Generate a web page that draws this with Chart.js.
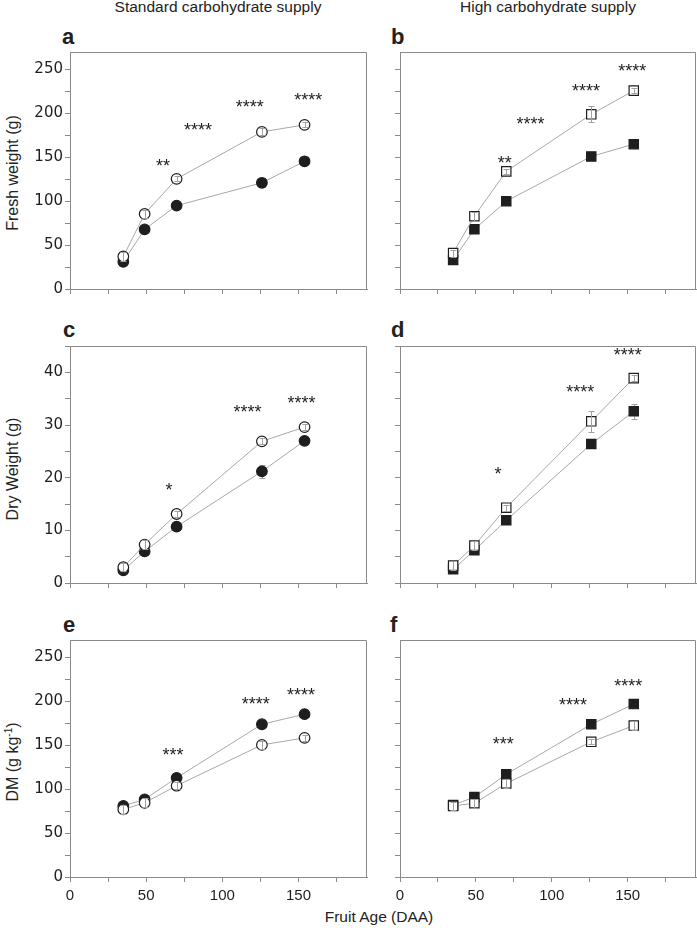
<!DOCTYPE html>
<html>
<head>
<meta charset="utf-8">
<script src="https://cdn.jsdelivr.net/npm/chart.js@4.4.1/dist/chart.umd.min.js"></script>
<style>
  body { margin: 0; background: #fff; width: 697px; height: 928px; position: relative; overflow: hidden;
         font-family: "Liberation Sans", Arial, sans-serif; color: #222; }
  canvas { position: absolute; }
  .lbl { position: absolute; white-space: nowrap; line-height: 1; }
  .col { font-size: 15.5px; transform: translateX(-50%); }
  .letter { font-size: 22px; font-weight: bold; }
  .ytitle { font-size: 16px; transform: translate(-50%, -50%) rotate(-90deg); }
  .xtitle { font-size: 15.5px; transform: translate(-50%, -50%); }
  sup { font-size: 10px; vertical-align: 6px; line-height: 0; }
</style>
</head>
<body>
<div class="lbl col" style="left:218px; top:-1px;">Standard carbohydrate supply</div>
<div class="lbl col" style="left:548px; top:-1px;">High carbohydrate supply</div>

<div class="lbl letter" style="left:62px; top:26px;">a</div>
<div class="lbl letter" style="left:391px; top:26px;">b</div>
<div class="lbl letter" style="left:63px; top:319px;">c</div>
<div class="lbl letter" style="left:391px; top:319px;">d</div>
<div class="lbl letter" style="left:63px; top:614px;">e</div>
<div class="lbl letter" style="left:390px; top:614px;">f</div>

<div class="lbl ytitle" style="left:13px; top:173px;">Fresh weight (g)</div>
<div class="lbl ytitle" style="left:13px; top:469px;">Dry Weight (g)</div>
<div class="lbl ytitle" style="left:13px; top:762px;">DM (g kg<sup>-1</sup>)</div>
<div class="lbl xtitle" style="left:379px; top:917px;">Fruit Age (DAA)</div>

<script>
// --- DATA ---
const daa = [35, 49, 70, 126, 154];

// a - fresh weight, standard supply
const freshStdOpen      = [37, 85.5, 125.5, 179, 187];
const freshStdOpenErr   = [5, 5, 3, 4, 3];
const freshStdFilled    = [31, 68, 95, 121, 145.5];
const freshStdFilledErr = [2, 3, 3, 5, 3];
// b - fresh weight, high supply
const freshHighOpen      = [41, 83, 134, 199, 226];
const freshHighOpenErr   = [4, 5, 3, 9, 3];
const freshHighFilled    = [33, 68, 100, 151, 165];
const freshHighFilledErr = [2, 3, 3, 3, 3];
// c - dry weight, standard supply
const dryStdOpen      = [3.0, 7.3, 13.1, 26.9, 29.6];
const dryStdOpenErr   = [0.8, 0.9, 0.5, 0.6, 0.5];
const dryStdFilled    = [2.4, 6.0, 10.7, 21.2, 27.0];
const dryStdFilledErr = [0.4, 0.6, 0.6, 1.2, 0.6];
// d - dry weight, high supply
const dryHighOpen      = [3.3, 7.1, 14.3, 30.7, 38.9];
const dryHighOpenErr   = [0.8, 0.9, 0.6, 2.0, 0.6];
const dryHighFilled    = [2.6, 6.2, 11.9, 26.4, 32.6];
const dryHighFilledErr = [0.3, 0.6, 0.6, 0.6, 1.4];
// e - dry matter, standard supply
const dmStdOpen      = [77, 84.5, 104, 150.5, 158.5];
const dmStdOpenErr   = [5, 5, 4, 5, 3];
const dmStdFilled    = [81, 88.5, 113, 174, 185.5];
const dmStdFilledErr = [3, 3, 3, 3, 3];
// f - dry matter, high supply
const dmHighOpen      = [81, 84, 106.5, 154, 172.5];
const dmHighOpenErr   = [5, 5, 5, 3, 5];
const dmHighFilled    = [82, 91, 117, 174, 197];
const dmHighFilledErr = [3, 3, 3, 3, 3];

// significance marks (x in DAA, y in axis units)
const sigA = { x: [61, 84, 118, 156.5], y: [145, 186, 212.5, 221], text: ['**', '****', '****', '****'] };
const sigB = { x: [69, 86, 122.5, 153], y: [149, 193.5, 231, 253], text: ['**', '****', '****', '****'] };
const sigC = { x: [65, 116.5, 152], y: [18.6, 33.3, 35.0], text: ['*', '****', '****'] };
const sigD = { x: [64.6, 118.7, 150], y: [21.5, 37.2, 44.2], text: ['*', '****', '****'] };
const sigE = { x: [67.7, 122, 151.6], y: [144.4, 202.5, 212.4], text: ['***', '****', '****'] };
const sigF = { x: [68, 114, 150.3], y: [156.5, 201.4, 223], text: ['***', '****', '****'] };

// --- STYLE ---
const FONT = '"Liberation Sans", Arial, sans-serif';
const FRAME = '#8a8a8a';
const LINE = '#a8a8a8';
const ERR = '#a0a0a0';
const INK = '#1e1e1e';
const PAD_L = 50, PAD_R = 8, PAD_T = 12, PAD_B = 32;

const COLS = [{ l: 70, r: 367 }, { l: 400, r: 696 }];
const ROWS = [{ t: 52, b: 289 }, { t: 346, b: 583 }, { t: 640, b: 877 }];

// --- PLUGIN: error bars, frame, asterisks ---
function drawErrors(chart, open) {
    const { ctx, scales: { x, y } } = chart;
    ctx.save();
    ctx.strokeStyle = ERR;
    ctx.lineWidth = 1;
    chart.data.datasets.forEach(ds => {
        if (!!ds.open !== open) return;
        ds.data.forEach((p, i) => {
            const px = Math.round(x.getPixelForValue(p.x)) + 0.5;
            const y1 = Math.round(y.getPixelForValue(p.y - ds.errors[i])) + 0.5;
            const y2 = Math.round(y.getPixelForValue(p.y + ds.errors[i])) + 0.5;
            ctx.beginPath();
            ctx.moveTo(px, y1); ctx.lineTo(px, y2);
            ctx.moveTo(px - 3, y1); ctx.lineTo(px + 3, y1);
            ctx.moveTo(px - 3, y2); ctx.lineTo(px + 3, y2);
            ctx.stroke();
        });
    });
    ctx.restore();
}

const panelExtras = {
    id: 'panelExtras',
    beforeDatasetsDraw(chart) { drawErrors(chart, false); },
    afterDatasetsDraw(chart) {
        drawErrors(chart, true);
        const { ctx, chartArea: a, scales: { x, y } } = chart;
        ctx.save();
        // top + right edge of the frame
        ctx.strokeStyle = FRAME;
        ctx.lineWidth = 1;
        ctx.beginPath();
        ctx.moveTo(Math.round(a.left), Math.round(a.top) + 0.5);
        ctx.lineTo(Math.round(a.right) - 0.5, Math.round(a.top) + 0.5);
        ctx.lineTo(Math.round(a.right) - 0.5, Math.round(a.bottom));
        ctx.stroke();
        // asterisks
        const sig = chart.options.plugins.panelExtras.sig;
        ctx.fillStyle = INK;
        ctx.font = '18px ' + FONT;
        ctx.textAlign = 'center';
        ctx.textBaseline = 'alphabetic';
        sig.x.forEach((v, i) => {
            ctx.fillText(sig.text[i], x.getPixelForValue(v), y.getPixelForValue(sig.y[i]) + 10.5);
        });
        ctx.restore();
    }
};

function series(ys, errs, open, shape) {
    return {
        data: daa.map((d, i) => ({ x: d, y: ys[i] })),
        errors: errs,
        open: open,
        showLine: true,
        borderColor: LINE,
        borderWidth: 1,
        pointStyle: shape,
        pointRadius: shape === 'rect' ? 6.6 : 5.3,
        pointBorderWidth: 1.2,
        pointBorderColor: INK,
        pointBackgroundColor: open ? '#fff' : INK,
        tension: 0
    };
}

function buildPanel(col, row, opts) {
    const c = COLS[col], r = ROWS[row];
    const w = c.r - c.l + PAD_L + PAD_R;
    const h = r.b - r.t + PAD_T + PAD_B;
    const canvas = document.createElement('canvas');
    canvas.width = w; canvas.height = h;
    canvas.style.left = (c.l - PAD_L) + 'px';
    canvas.style.top = (r.t - PAD_T) + 'px';
    canvas.style.width = w + 'px';
    canvas.style.height = h + 'px';
    document.body.appendChild(canvas);

    const shape = col === 0 ? 'circle' : 'rect';
    new Chart(canvas, {
        type: 'scatter',
        data: {
            datasets: [
                series(opts.open, opts.openErr, true, shape),
                series(opts.filled, opts.filledErr, false, shape)
            ]
        },
        options: {
            responsive: false,
            devicePixelRatio: 1,
            animation: false,
            layout: { padding: { left: 0, right: PAD_R, top: PAD_T, bottom: 0 } },
            plugins: {
                legend: { display: false },
                tooltip: { enabled: false },
                panelExtras: { sig: opts.sig }
            },
            scales: {
                x: {
                    type: 'linear', min: 0, max: 195,
                    afterFit: s => { s.height = PAD_B; },
                    grid: { drawOnChartArea: false, drawTicks: true, tickLength: 5, color: FRAME },
                    border: { display: true, color: FRAME, width: 1 },
                    ticks: {
                        display: row === 2, stepSize: 25, includeBounds: false, autoSkip: false,
                        maxRotation: 0, padding: 5, color: INK, font: { family: FONT, size: 15 },
                        callback: v => (v % 50 === 0 ? v : '')
                    }
                },
                y: {
                    type: 'linear', min: 0, max: opts.yMax,
                    afterFit: s => { s.width = PAD_L; },
                    grid: { drawOnChartArea: false, drawTicks: true, tickLength: 5, color: FRAME },
                    border: { display: true, color: FRAME, width: 1 },
                    ticks: {
                        display: col === 0, stepSize: opts.yStep, includeBounds: false,
                        padding: 2, color: INK, font: { family: '"DejaVu Sans", sans-serif', size: 15 },
                        callback: v => (v % (opts.yStep * 2) === 0 ? v : '')
                    }
                }
            }
        },
        plugins: [panelExtras]
    });
}

document.addEventListener('DOMContentLoaded', () => {
    buildPanel(0, 0, { open: freshStdOpen, openErr: freshStdOpenErr, filled: freshStdFilled, filledErr: freshStdFilledErr, yMax: 270, yStep: 25, sig: sigA });
    buildPanel(1, 0, { open: freshHighOpen, openErr: freshHighOpenErr, filled: freshHighFilled, filledErr: freshHighFilledErr, yMax: 270, yStep: 25, sig: sigB });
    buildPanel(0, 1, { open: dryStdOpen, openErr: dryStdOpenErr, filled: dryStdFilled, filledErr: dryStdFilledErr, yMax: 45, yStep: 5, sig: sigC });
    buildPanel(1, 1, { open: dryHighOpen, openErr: dryHighOpenErr, filled: dryHighFilled, filledErr: dryHighFilledErr, yMax: 45, yStep: 5, sig: sigD });
    buildPanel(0, 2, { open: dmStdOpen, openErr: dmStdOpenErr, filled: dmStdFilled, filledErr: dmStdFilledErr, yMax: 270, yStep: 25, sig: sigE });
    buildPanel(1, 2, { open: dmHighOpen, openErr: dmHighOpenErr, filled: dmHighFilled, filledErr: dmHighFilledErr, yMax: 270, yStep: 25, sig: sigF });
});
</script>
</body>
</html>
